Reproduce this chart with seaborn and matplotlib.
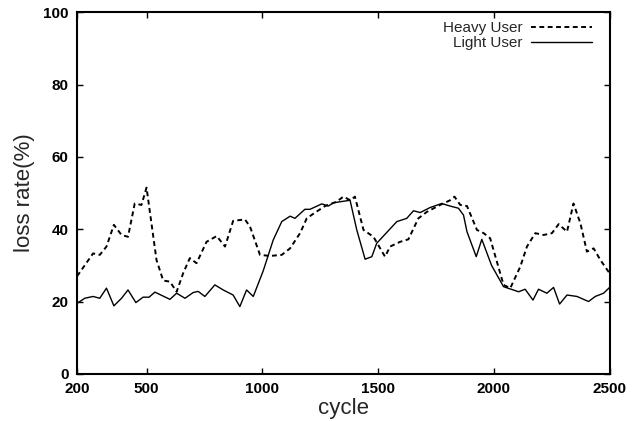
import pandas as pd
import matplotlib
matplotlib.use("Agg")
import matplotlib.pyplot as plt
import seaborn as sns

# Values
heavy_cycle = [200, 233, 269, 298, 327, 359, 392, 420, 449, 478, 500, 543, 572, 601,
               630, 658, 687, 716, 759, 803, 839, 874, 925, 947, 990, 1033, 1084,
               1120, 1163, 1192, 1228, 1271, 1321, 1350, 1380, 1400, 1437, 1480,
               1530, 1552, 1595, 1631, 1674, 1711, 1768, 1811, 1830, 1855, 1884,
               1927, 1956, 1984, 2042, 2071, 2114, 2143, 2179, 2215, 2251, 2280,
               2316, 2344, 2374, 2402, 2431, 2460, 2500]
heavy_loss = [27.0, 30.0, 33.3, 32.9, 35.2, 41.2, 38.4, 37.9, 47.1, 46.7, 51.5, 31.5,
              25.8, 25.5, 22.7, 27.8, 32.0, 30.6, 36.5, 38.1, 35.2, 42.3, 42.7, 40.7,
              32.9, 32.6, 32.9, 34.7, 38.9, 43.0, 44.6, 46.4, 47.6, 49.0, 48.0, 49.0,
              39.8, 37.9, 32.4, 35.2, 36.5, 37.2, 43.0, 44.8, 46.7, 48.0, 49.0, 46.7,
              46.4, 39.8, 38.9, 37.5, 24.6, 23.7, 29.6, 35.2, 38.9, 38.4, 38.9, 41.4,
              39.3, 47.1, 41.6, 33.8, 34.7, 31.5, 27.8]

light_cycle = [200, 233, 269, 298, 327, 359, 392, 420, 454, 485, 511, 536, 601, 630,
               666, 702, 723, 752, 795, 831, 874, 903, 932, 961, 1004, 1047, 1084,
               1120, 1141, 1184, 1206, 1257, 1285, 1307, 1379, 1408, 1444, 1473,
               1494, 1581, 1624, 1653, 1682, 1725, 1775, 1811, 1847, 1869, 1884,
               1924, 1948, 1990, 2042, 2107, 2135, 2169, 2193, 2229, 2258, 2284,
               2316, 2359, 2409, 2438, 2474, 2500]
light_loss = [19.5, 20.9, 21.4, 20.9, 23.7, 18.8, 20.9, 23.2, 19.7, 21.2, 21.2, 22.6,
              20.6, 22.3, 20.9, 22.5, 22.8, 21.4, 24.6, 23.2, 21.8, 18.6, 23.2, 21.4,
              28.5, 37.0, 42.1, 43.6, 43.0, 45.5, 45.5, 47.0, 46.4, 47.3, 48.0, 39.8,
              31.7, 32.4, 36.1, 42.1, 43.0, 45.1, 44.6, 46.0, 47.1, 46.4, 45.8, 43.9,
              39.3, 32.4, 37.2, 30.0, 24.1, 22.7, 23.4, 20.4, 23.4, 22.3, 23.9, 19.3,
              21.8, 21.4, 20.0, 21.4, 22.3, 23.9]

series_names = ["Heavy User", "Light User"]

df = pd.concat([
    pd.DataFrame({"cycle": heavy_cycle, "loss": heavy_loss, "user": series_names[0]}),
    pd.DataFrame({"cycle": light_cycle, "loss": light_loss, "user": series_names[1]}),
])

sns.set_theme(style="ticks")
plt.rcParams["font.family"] = ["Liberation Sans", "DejaVu Sans"]

fig = plt.figure(figsize=(6.37, 4.21), dpi=100)
ax = fig.add_axes([0.121, 0.112, 0.836, 0.859])

sns.lineplot(data=df, x="cycle", y="loss", hue="user", style="user",
             palette={series_names[0]: "black", series_names[1]: "black"},
             dashes={series_names[0]: (2.5, 1.8), series_names[1]: ""},
             size="user", sizes={series_names[0]: 1.4, series_names[1]: 1.0},
             estimator=None, sort=False, ax=ax)

ax.set_xlim(200, 2500)
ax.set_ylim(0, 100)
ax.set_xticks([200, 500, 1000, 1500, 2000, 2500])
ax.set_yticks([0, 20, 40, 60, 80, 100])
ax.tick_params(direction="in", top=True, right=True, length=4, width=1,
               labelsize=11, colors="black", pad=6)
for lbl in ax.get_xticklabels() + ax.get_yticklabels():
    lbl.set_fontweight("bold")
for s in ax.spines.values():
    s.set_linewidth(1.5)
    s.set_color("black")

ax.set_xlabel("cycle", fontsize=16, labelpad=1)
ax.set_ylabel("loss rate(%)", fontsize=16, labelpad=6)

handles, labels = ax.get_legend_handles_labels()
ax.legend(handles, labels, loc="upper right", frameon=False, markerfirst=False,
          handlelength=4.0, fontsize=11, borderaxespad=0.2, labelspacing=0.05,
          handletextpad=0.6, bbox_to_anchor=(0.985, 1.0))

fig.savefig("out.png", dpi=100)
